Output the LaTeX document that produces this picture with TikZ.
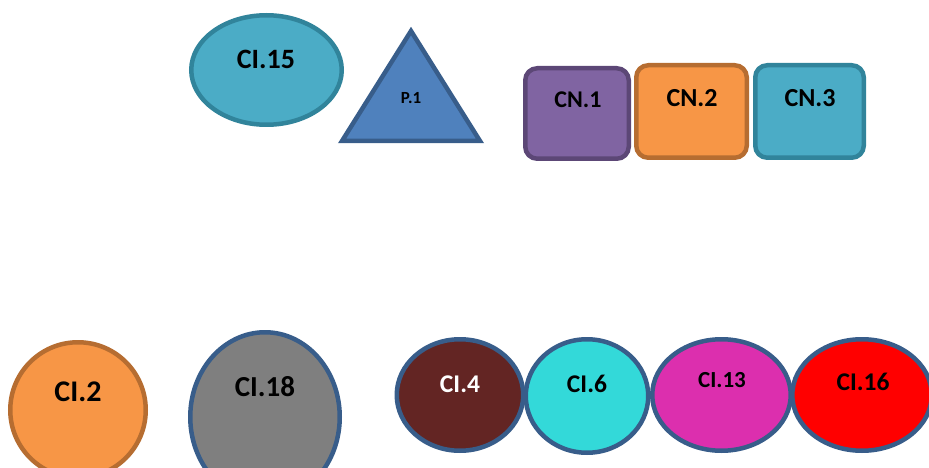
\documentclass[tikz,border=0pt]{standalone}
\usepackage{fontspec}
\setmainfont{Carlito}
\usetikzlibrary{shapes.geometric}

\definecolor{tealFill}{HTML}{4BACC6}
\definecolor{tealLine}{HTML}{31849B}
\definecolor{blueFill}{HTML}{4F81BD}
\definecolor{blueLine}{HTML}{385D8A}
\definecolor{purpleFill}{HTML}{8064A2}
\definecolor{purpleLine}{HTML}{5C4776}
\definecolor{orangeFill}{HTML}{F79646}
\definecolor{orangeLine}{HTML}{B66D31}
\definecolor{greyFill}{HTML}{7F7F7F}
\definecolor{brownFill}{HTML}{632523}
\definecolor{cyanFill}{HTML}{33D9D9}
\definecolor{magentaFill}{HTML}{DC2FAE}

\def \borderW {4.5pt}
\def \fs #1{\fontsize{#1}{#1}\selectfont\bfseries}

\tikzset{
  blob/.style={ellipse, draw, line width=\borderW, inner sep=0pt},
  cnbox/.style={rectangle, draw, line width=\borderW, rounded corners=12pt, inner sep=0pt},
  lbl/.style={inner sep=0pt, text=black}
}

\begin{document}
\begin{tikzpicture}[x=1pt, y=-1pt]
  \useasboundingbox (0,0) rectangle (929,468);
  \clip (0,0) rectangle (929,468);

  % top row
  \node[blob, fill=tealFill, draw=tealLine, minimum width=150.5pt, minimum height=109.5pt] (ci15) at (266.5,70) {};
  \node[lbl] (ci15t) at (266,59) {\fs{28}CI.15};

  \draw[line width=\borderW, line join=miter, fill=blueFill, draw=blueLine] (411,31) -- (480,141) -- (342,141) -- cycle;
  \node[lbl] (p1t) at (411,98) {\fs{17}P.1};

  \node[cnbox, fill=purpleFill, draw=purpleLine, minimum width=103.5pt, minimum height=90.5pt] (cn1) at (577,113.5) {};
  \node[lbl] (cn1t) at (578,100) {\fs{24}CN.1};
  \node[cnbox, fill=orangeFill, draw=orangeLine, minimum width=110.5pt, minimum height=92.5pt] (cn2) at (691.5,111.5) {};
  \node[lbl] (cn2t) at (692,98) {\fs{26}CN.2};
  \node[cnbox, fill=tealFill, draw=tealLine, minimum width=108.5pt, minimum height=92.5pt] (cn3) at (809.5,111.5) {};
  \node[lbl] (cn3t) at (810,98) {\fs{26}CN.3};

  % bottom row
  \node[blob, fill=orangeFill, draw=orangeLine, minimum width=135.5pt, minimum height=135.5pt] (ci2) at (78,410) {};
  \node[lbl] (ci2t) at (78,392) {\fs{30}CI.2};
  \node[blob, fill=greyFill, draw=blueLine, minimum width=149.5pt, minimum height=169.5pt] (ci18) at (265,417) {};
  \node[lbl] (ci18t) at (265,387) {\fs{29}CI.18};

  \node[blob, fill=brownFill, draw=blueLine, minimum width=126.5pt, minimum height=111.5pt] (ci4) at (460,395) {};
  \node[lbl, text=white] (ci4t) at (460,384) {\fs{25.5}CI.4};
  \node[blob, fill=cyanFill, draw=blueLine, minimum width=122.5pt, minimum height=113.5pt] (ci6) at (587,396) {};
  \node[lbl] (ci6t) at (587,384) {\fs{25.5}CI.6};
  \node[blob, fill=magentaFill, draw=blueLine, minimum width=138.5pt, minimum height=111.5pt] (ci13) at (721.5,395) {};
  \node[lbl] (ci13t) at (722,380) {\fs{23}CI.13};
  \node[blob, fill=red, draw=blueLine, minimum width=139.5pt, minimum height=111.5pt] (ci16) at (862,395) {};
  \node[lbl] (ci16t) at (863,382) {\fs{25.5}CI.16};
\end{tikzpicture}
\end{document}
